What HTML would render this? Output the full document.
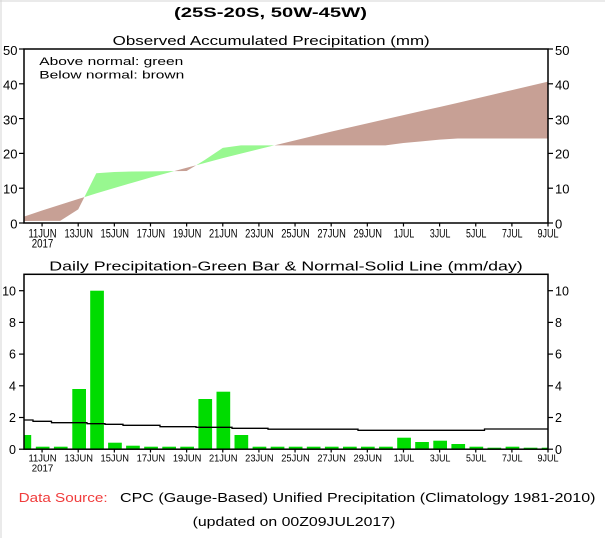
<!DOCTYPE html>
<html><head><meta charset="utf-8"><style>
html,body{margin:0;padding:0;background:#fff;}
svg{display:block;}
text{font-family:"Liberation Sans",sans-serif;fill:#000;}
</style></head><body>
<svg width="605" height="538" viewBox="0 0 605 538" xmlns="http://www.w3.org/2000/svg">
<rect x="0" y="0" width="605" height="538" fill="#fff"/>
<line x1="0" y1="1" x2="605" y2="1" stroke="#d4d4d4" stroke-width="1"/>
<line x1="1" y1="0" x2="1" y2="538" stroke="#d4d4d4" stroke-width="1"/>

<!-- Titles -->
<text x="174" y="17" font-size="14" font-weight="bold" textLength="193" lengthAdjust="spacingAndGlyphs">(25S-20S, 50W-45W)</text>
<text x="112.7" y="45" font-size="13" textLength="317" lengthAdjust="spacingAndGlyphs">Observed Accumulated Precipitation (mm)</text>

<!-- Top chart fills -->
<g fill="#c7a095">
<polygon points="24,216.63 42.07,210.54 60.14,204.76 78.21,198.99 84.37,197.07 78.21,209.43 60.14,220.91 42.07,220.91 24,221.02"/>
<polygon points="174.16,171.08 186.63,167.7 196.21,165.2 186.63,170.97"/>
<polygon points="274.27,145.4 276.98,144.73 295.05,140.35 313.12,135.97 331.19,131.58 349.26,127.47 367.33,123.37 385.4,119.26 403.47,115.15 421.54,111.05 439.61,106.94 457.68,102.84 475.75,98.59 493.82,94.34 511.89,90.1 529.96,85.85 548.03,81.61 548.03,138.44 457.68,138.44 439.61,139.65 421.54,141.39 403.47,142.96 385.4,145.4 276.98,145.4"/>
</g>
<g fill="#98f890">
<polygon points="84.37,197.07 96.28,173.24 114.35,172.02 132.42,171.5 150.49,171.32 168.56,171.15 174.16,171.08 168.56,172.61 150.49,177.52 132.42,182.74 114.35,187.96 96.28,193.42"/>
<polygon points="196.21,165.2 204.7,160.01 222.77,147.83 240.84,145.4 258.91,145.4 274.27,145.4 258.91,149.12 240.84,153.64 222.77,158.17 204.7,162.94"/>
</g>

<!-- Legend -->
<text x="39.3" y="65" font-size="11" textLength="144" lengthAdjust="spacingAndGlyphs">Above normal: green</text>
<text x="39.3" y="78.7" font-size="11" textLength="145" lengthAdjust="spacingAndGlyphs">Below normal: brown</text>

<!-- Top chart axes -->
<rect x="24" y="49" width="524" height="174" fill="none" stroke="#000" stroke-width="1.5"/>
<g stroke="#000" stroke-width="1.2">
<line x1="19" y1="49" x2="24" y2="49"/><line x1="19" y1="83.8" x2="24" y2="83.8"/><line x1="19" y1="118.6" x2="24" y2="118.6"/><line x1="19" y1="153.4" x2="24" y2="153.4"/><line x1="19" y1="188.2" x2="24" y2="188.2"/><line x1="19" y1="223" x2="24" y2="223"/>
<line x1="548" y1="49" x2="553" y2="49"/><line x1="548" y1="83.8" x2="553" y2="83.8"/><line x1="548" y1="118.6" x2="553" y2="118.6"/><line x1="548" y1="153.4" x2="553" y2="153.4"/><line x1="548" y1="188.2" x2="553" y2="188.2"/><line x1="548" y1="223" x2="553" y2="223"/>
</g>
<g font-size="13" text-anchor="end">
<text x="17.5" y="55">50</text><text x="17.5" y="89.5">40</text><text x="17.5" y="124.3">30</text><text x="17.5" y="158.5">20</text><text x="17.5" y="193.3">10</text><text x="17.5" y="228.3">0</text>
</g>
<g font-size="13">
<text x="555" y="55">50</text><text x="555" y="89.5">40</text><text x="555" y="124.3">30</text><text x="555" y="158.5">20</text><text x="555" y="193.3">10</text><text x="555" y="228.3">0</text>
</g>
<g stroke="#000" stroke-width="1.2">
<line x1="42.07" y1="223" x2="42.07" y2="226.5"/><line x1="78.21" y1="223" x2="78.21" y2="226.5"/><line x1="114.35" y1="223" x2="114.35" y2="226.5"/><line x1="150.49" y1="223" x2="150.49" y2="226.5"/><line x1="186.63" y1="223" x2="186.63" y2="226.5"/><line x1="222.77" y1="223" x2="222.77" y2="226.5"/><line x1="258.91" y1="223" x2="258.91" y2="226.5"/><line x1="295.05" y1="223" x2="295.05" y2="226.5"/><line x1="331.19" y1="223" x2="331.19" y2="226.5"/><line x1="367.33" y1="223" x2="367.33" y2="226.5"/><line x1="403.47" y1="223" x2="403.47" y2="226.5"/><line x1="439.61" y1="223" x2="439.61" y2="226.5"/><line x1="475.75" y1="223" x2="475.75" y2="226.5"/><line x1="511.89" y1="223" x2="511.89" y2="226.5"/><line x1="548" y1="223" x2="548" y2="226.5"/>
</g>
<g font-size="12" text-anchor="middle">
<text x="42.5" y="237.3" textLength="28" lengthAdjust="spacingAndGlyphs">11JUN</text>
<text x="42.5" y="247.3" textLength="21.6" lengthAdjust="spacingAndGlyphs">2017</text>
<text x="78.7" y="237.3" textLength="28.5" lengthAdjust="spacingAndGlyphs">13JUN</text>
<text x="114.8" y="237.3" textLength="28.5" lengthAdjust="spacingAndGlyphs">15JUN</text>
<text x="150.9" y="237.3" textLength="28.5" lengthAdjust="spacingAndGlyphs">17JUN</text>
<text x="187.1" y="237.3" textLength="28.5" lengthAdjust="spacingAndGlyphs">19JUN</text>
<text x="223.2" y="237.3" textLength="28.5" lengthAdjust="spacingAndGlyphs">21JUN</text>
<text x="259.4" y="237.3" textLength="28.5" lengthAdjust="spacingAndGlyphs">23JUN</text>
<text x="295.5" y="237.3" textLength="28.5" lengthAdjust="spacingAndGlyphs">25JUN</text>
<text x="331.6" y="237.3" textLength="28.5" lengthAdjust="spacingAndGlyphs">27JUN</text>
<text x="367.8" y="237.3" textLength="28.5" lengthAdjust="spacingAndGlyphs">29JUN</text>
<text x="404" y="237.3" textLength="20.5" lengthAdjust="spacingAndGlyphs">1JUL</text>
<text x="440.1" y="237.3" textLength="20.5" lengthAdjust="spacingAndGlyphs">3JUL</text>
<text x="476.2" y="237.3" textLength="20.5" lengthAdjust="spacingAndGlyphs">5JUL</text>
<text x="512.3" y="237.3" textLength="20.5" lengthAdjust="spacingAndGlyphs">7JUL</text>
<text x="548" y="237.3" textLength="21" lengthAdjust="spacingAndGlyphs">9JUL</text>
</g>

<!-- Bottom chart -->
<text x="49.3" y="270.5" font-size="13" textLength="473.4" lengthAdjust="spacingAndGlyphs">Daily Precipitation-Green Bar &amp; Normal-Solid Line (mm/day)</text>

<g fill="#00dc00">
<rect x="24" y="435" width="7.2" height="14"/>
<rect x="35.8" y="446.7" width="13.7" height="2.3"/>
<rect x="53.9" y="446.7" width="13.7" height="2.3"/>
<rect x="72.3" y="389" width="13.7" height="60"/>
<rect x="90.2" y="290.7" width="13.7" height="158.3"/>
<rect x="108.1" y="442.7" width="13.7" height="6.3"/>
<rect x="126.1" y="445.7" width="13.7" height="3.3"/>
<rect x="144.2" y="446.7" width="13.7" height="2.3"/>
<rect x="162.3" y="446.7" width="13.7" height="2.3"/>
<rect x="180.3" y="446.7" width="13.7" height="2.3"/>
<rect x="198.4" y="399" width="13.7" height="50"/>
<rect x="216.5" y="391.7" width="13.7" height="57.3"/>
<rect x="234.5" y="435" width="13.7" height="14"/>
<rect x="252.6" y="446.7" width="13.7" height="2.3"/>
<rect x="270.7" y="446.7" width="13.7" height="2.3"/>
<rect x="288.8" y="446.7" width="13.7" height="2.3"/>
<rect x="306.8" y="446.7" width="13.7" height="2.3"/>
<rect x="324.9" y="446.7" width="13.7" height="2.3"/>
<rect x="343" y="446.7" width="13.7" height="2.3"/>
<rect x="361" y="446.7" width="13.7" height="2.3"/>
<rect x="379.1" y="446.7" width="13.7" height="2.3"/>
<rect x="397.2" y="437.7" width="13.7" height="11.3"/>
<rect x="415.2" y="442" width="13.7" height="7"/>
<rect x="433.3" y="440.7" width="13.7" height="8.3"/>
<rect x="451.4" y="444" width="13.7" height="5"/>
<rect x="469.5" y="446.7" width="13.7" height="2.3"/>
<rect x="487.5" y="447.7" width="13.7" height="1.3"/>
<rect x="505.6" y="446.7" width="13.7" height="2.3"/>
<rect x="523.7" y="447.7" width="13.7" height="1.3"/>
<rect x="541.7" y="447.7" width="6.3" height="1.3"/>
</g>

<path d="M24,420 H33 V421.3 H51.5 V422.7 H87 V423.7 H105 V424.3 H123 V425.3 H160 V426.7 H196 V427.3 H232 V428.3 H268 V429.2 H358 V430.3 H484.5 V429 H548" fill="none" stroke="#000" stroke-width="1.3"/>

<rect x="24" y="274.3" width="524" height="174.9" fill="none" stroke="#000" stroke-width="1.5"/>
<g stroke="#000" stroke-width="1.2">
<line x1="19" y1="290.7" x2="24" y2="290.7"/><line x1="19" y1="322.4" x2="24" y2="322.4"/><line x1="19" y1="354.1" x2="24" y2="354.1"/><line x1="19" y1="385.8" x2="24" y2="385.8"/><line x1="19" y1="417.5" x2="24" y2="417.5"/><line x1="19" y1="449.2" x2="24" y2="449.2"/>
<line x1="548" y1="290.7" x2="553" y2="290.7"/><line x1="548" y1="322.4" x2="553" y2="322.4"/><line x1="548" y1="354.1" x2="553" y2="354.1"/><line x1="548" y1="385.8" x2="553" y2="385.8"/><line x1="548" y1="417.5" x2="553" y2="417.5"/><line x1="548" y1="449.2" x2="553" y2="449.2"/>
</g>
<g font-size="12.5" text-anchor="end">
<text x="16" y="295.3">10</text><text x="16" y="327">8</text><text x="16" y="358.7">6</text><text x="16" y="390.4">4</text><text x="16" y="422.1">2</text><text x="16" y="453.8">0</text>
</g>
<g font-size="12.5">
<text x="555" y="295.3">10</text><text x="555" y="327">8</text><text x="555" y="358.7">6</text><text x="555" y="390.4">4</text><text x="555" y="422.1">2</text><text x="555" y="453.8">0</text>
</g>
<g stroke="#000" stroke-width="1.2">
<line x1="42.07" y1="449" x2="42.07" y2="452.5"/><line x1="78.21" y1="449" x2="78.21" y2="452.5"/><line x1="114.35" y1="449" x2="114.35" y2="452.5"/><line x1="150.49" y1="449" x2="150.49" y2="452.5"/><line x1="186.63" y1="449" x2="186.63" y2="452.5"/><line x1="222.77" y1="449" x2="222.77" y2="452.5"/><line x1="258.91" y1="449" x2="258.91" y2="452.5"/><line x1="295.05" y1="449" x2="295.05" y2="452.5"/><line x1="331.19" y1="449" x2="331.19" y2="452.5"/><line x1="367.33" y1="449" x2="367.33" y2="452.5"/><line x1="403.47" y1="449" x2="403.47" y2="452.5"/><line x1="439.61" y1="449" x2="439.61" y2="452.5"/><line x1="475.75" y1="449" x2="475.75" y2="452.5"/><line x1="511.89" y1="449" x2="511.89" y2="452.5"/><line x1="548" y1="449" x2="548" y2="452.5"/>
</g>
<g font-size="10.5" text-anchor="middle">
<text x="42.5" y="461.5" textLength="28" lengthAdjust="spacingAndGlyphs">11JUN</text>
<text x="42.5" y="471.7" textLength="21.6" lengthAdjust="spacingAndGlyphs">2017</text>
<text x="78.7" y="461.5" textLength="28.5" lengthAdjust="spacingAndGlyphs">13JUN</text>
<text x="114.8" y="461.5" textLength="28.5" lengthAdjust="spacingAndGlyphs">15JUN</text>
<text x="150.9" y="461.5" textLength="28.5" lengthAdjust="spacingAndGlyphs">17JUN</text>
<text x="187.1" y="461.5" textLength="28.5" lengthAdjust="spacingAndGlyphs">19JUN</text>
<text x="223.2" y="461.5" textLength="28.5" lengthAdjust="spacingAndGlyphs">21JUN</text>
<text x="259.4" y="461.5" textLength="28.5" lengthAdjust="spacingAndGlyphs">23JUN</text>
<text x="295.5" y="461.5" textLength="28.5" lengthAdjust="spacingAndGlyphs">25JUN</text>
<text x="331.6" y="461.5" textLength="28.5" lengthAdjust="spacingAndGlyphs">27JUN</text>
<text x="367.8" y="461.5" textLength="28.5" lengthAdjust="spacingAndGlyphs">29JUN</text>
<text x="404" y="461.5" textLength="20.5" lengthAdjust="spacingAndGlyphs">1JUL</text>
<text x="440.1" y="461.5" textLength="20.5" lengthAdjust="spacingAndGlyphs">3JUL</text>
<text x="476.2" y="461.5" textLength="20.5" lengthAdjust="spacingAndGlyphs">5JUL</text>
<text x="512.3" y="461.5" textLength="20.5" lengthAdjust="spacingAndGlyphs">7JUL</text>
<text x="548" y="461.5" textLength="21" lengthAdjust="spacingAndGlyphs">9JUL</text>
</g>

<!-- Footer -->
<text x="18.6" y="502" font-size="13" fill="#f03c3c" style="fill:#f03c3c" textLength="89" lengthAdjust="spacingAndGlyphs">Data Source:</text>
<text x="120" y="502" font-size="13" textLength="475.5" lengthAdjust="spacingAndGlyphs">CPC (Gauge-Based) Unified Precipitation (Climatology 1981-2010)</text>
<text x="192.6" y="526" font-size="13" textLength="202.7" lengthAdjust="spacingAndGlyphs">(updated on 00Z09JUL2017)</text>
</svg>
</body></html>
